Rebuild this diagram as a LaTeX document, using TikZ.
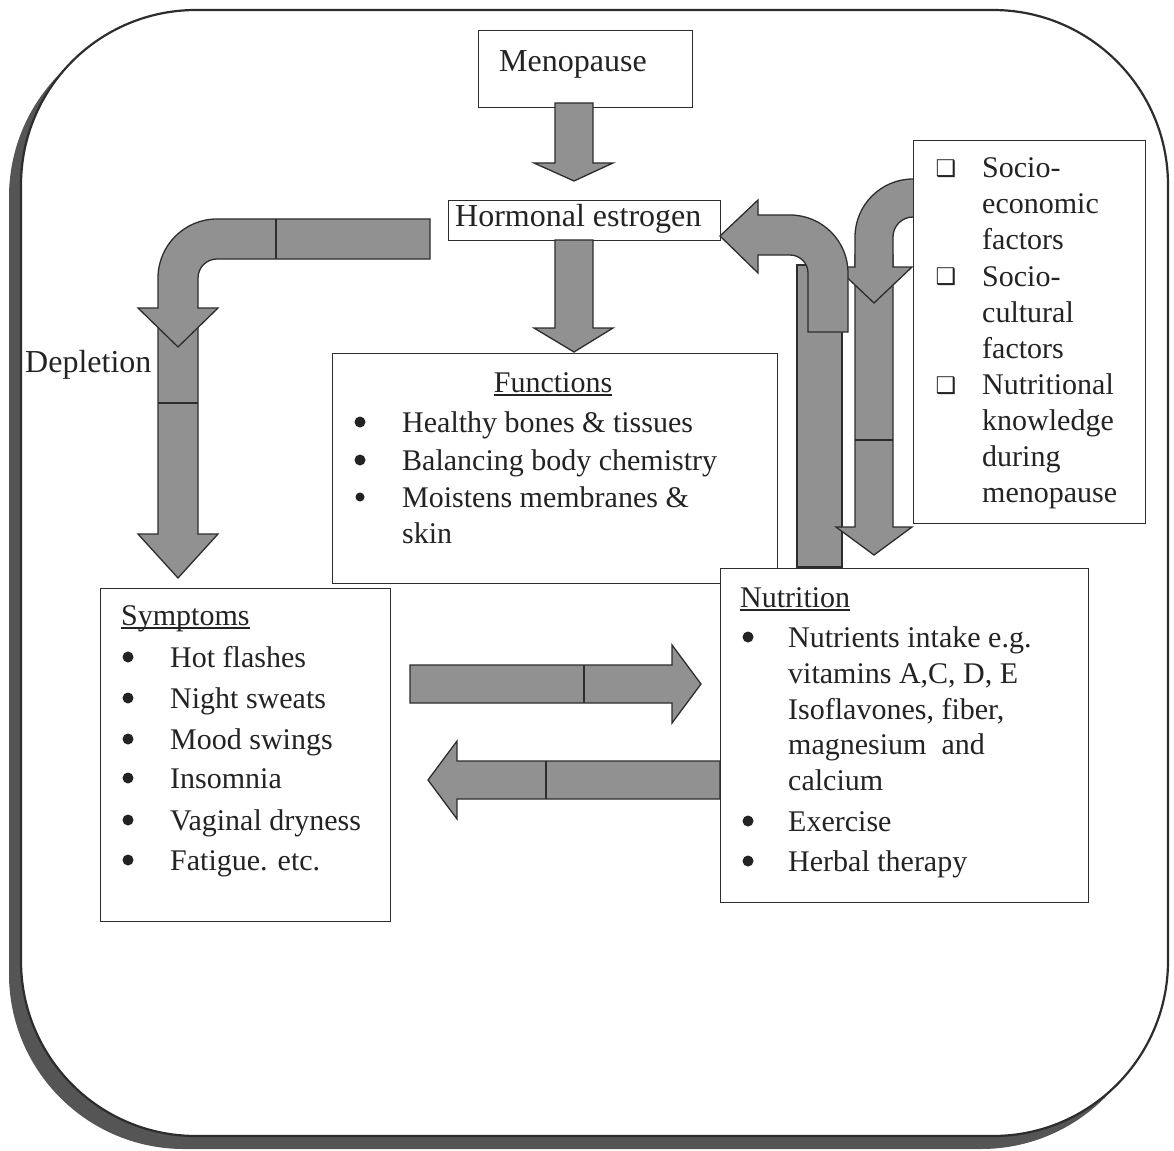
\documentclass[tikz,border=0pt]{standalone}
\usepackage{fontspec}
\setmainfont{Liberation Serif}
\newfontfamily\dejavu{DejaVu Sans}
\definecolor{arrowgray}{RGB}{145,145,145}
\definecolor{edgecol}{RGB}{45,45,45}
\definecolor{shadowgray}{RGB}{85,85,85}
\definecolor{inkcol}{RGB}{35,35,35}
\begin{document}
\begin{tikzpicture}[x=1pt,y=-1pt,
  arr/.style={fill=arrowgray, draw=edgecol, line width=1.3pt, line join=miter},
  divline/.style={draw=edgecol, line width=1.3pt},
  box/.style={draw=edgecol, fill=white, line width=1.3pt, inner sep=0pt},
  tnr/.style={font=\fontsize{32}{32}\selectfont, text=inkcol, inner sep=0pt},
  gar/.style={font=\fontsize{30}{30}\selectfont, text=inkcol, inner sep=0pt},
  bul/.style={circle, fill=inkcol, inner sep=0pt, minimum size=11pt},
  chk/.style={font=\dejavu\fontsize{23}{23}\selectfont, text=inkcol, inner sep=0pt, anchor=center},
  uline/.style={draw=inkcol, line width=1.1pt}]
\useasboundingbox (0,0) rectangle (1174,1150);

% outer frame with shadow
\fill[shadowgray, rounded corners=175] (9,22) rectangle (1156,1149);
\draw[draw=edgecol, fill=white, line width=2.2pt, rounded corners=175] (21,10) rectangle (1168,1136);

% boxes (background ones)
\node[box, anchor=north west, minimum width=214, minimum height=77] (meno) at (478,30) {};
\node[box, anchor=north west, minimum width=272, minimum height=40] (horm) at (448,200) {};
\node[box, anchor=north west, minimum width=445, minimum height=230] (func) at (332,353) {};
\node[box, anchor=north west, minimum width=290, minimum height=333] (symp) at (100,588) {};

% Menopause -> Hormonal estrogen
\draw[arr] (555,103) -- (593,103) -- (593,163) -- (613,163) -- (574,181) -- (534,163) -- (555,163) -- cycle;
% Hormonal estrogen -> Functions
\draw[arr] (555,240) -- (593,240) -- (593,328) -- (613,328) -- (574,352) -- (534,328) -- (555,328) -- cycle;

% Depletion: straight arrow to Symptoms
\draw[arr] (158,320) -- (198,320) -- (198,534) -- (218,534) -- (178,578) -- (138,534) -- (158,534) -- cycle;
\draw[divline] (158,403) -- (198,403);
% Depletion: bent arrow from Hormonal estrogen
\draw[arr] (430,219) -- (217,219) arc(270:180:59) -- (158,308) -- (138,308) -- (178,347) -- (218,308) -- (198,308)
  -- (198,278) arc(180:270:19) -- (430,259) -- cycle;
\draw[divline] (276,219) -- (276,259);

% Symptoms <-> Nutrition
\draw[arr] (410,665) -- (672,665) -- (672,645) -- (701,684) -- (672,723) -- (672,703) -- (410,703) -- cycle;
\draw[divline] (584,665) -- (584,703);
\draw[arr] (720,761) -- (457,761) -- (457,741) -- (428,780) -- (457,819) -- (457,799) -- (720,799) -- cycle;
\draw[divline] (546,761) -- (546,799);

% Nutrition -> Hormonal estrogen (bar + bent arrow)
\draw[arr] (797,265) rectangle (842,567);
% factors -> Nutrition: straight lower arrow
\draw[arr] (855,255) -- (893,255) -- (893,527) -- (912,527) -- (874,555) -- (836,527) -- (855,527) -- cycle;
\draw[divline] (855,440) -- (893,440);
% factors: curved arrow coming out of the box
\draw[arr] (930,179) -- (913,179) arc(270:180:58) -- (855,267) -- (836,267) -- (874,303) -- (912,267) -- (893,267)
  -- (893,237) arc(180:270:20) -- (930,217) -- cycle;
% bent arrow pointing to Hormonal estrogen
\draw[arr] (720,236) -- (758,200) -- (758,215) -- (790,215) arc(270:360:58) -- (848,332) -- (808,332)
  -- (808,273) arc(360:270:18) -- (758,255) -- (758,273) -- cycle;

% foreground boxes
\node[box, anchor=north west, minimum width=368, minimum height=334] (nutr) at (720,568) {};
\node[box, anchor=north west, minimum width=232, minimum height=383] (fact) at (913,140) {};

% texts
\node[tnr, anchor=base] (menot) at (573,72) {Menopause};
\node[tnr, anchor=base west] (hormt) at (455,227) {Hormonal estrogen};
\node[tnr, anchor=base west] (deplt) at (25,372) {Depletion};

% Functions
\node[gar, anchor=base] (funt) at (553,392) {Functions};
\draw[uline] ([yshift=-3pt]funt.base west) -- ([yshift=-3pt]funt.base east);
\node[bul] (fb1) at (360,422) {};
\node[bul] (fb2) at (360,460) {};
\node[bul, minimum size=9pt] (fb3) at (360,497) {};
\node[gar, anchor=base west] (f1) at (402,432) {Healthy bones \& tissues};
\node[gar, anchor=base west] (f2) at (402,470) {Balancing body chemistry};
\node[gar, anchor=base west] (f3) at (402,507) {Moistens membranes \&};
\node[gar, anchor=base west] (f4) at (402,543) {skin};

% Symptoms
\node[gar, anchor=base west] (symt) at (121,625) {Symptoms};
\draw[uline] ([yshift=-3pt]symt.base west) -- ([yshift=-3pt]symt.base east);
\foreach \yy/\nn/\tt in {667/1/Hot flashes, 708/2/Night sweats, 749/3/Mood swings, 788/4/Insomnia, 830/5/Vaginal dryness, 870/6/Fatigue. etc.}{
  \node[bul] (sb\nn) at (128,\yy-10) {};
  \node[gar, anchor=base west] (s\nn) at (170,\yy) {\tt};
}

% Nutrition
\node[gar, anchor=base west] (nutt) at (740,607) {Nutrition};
\draw[uline] ([yshift=-3pt]nutt.base west) -- ([yshift=-3pt]nutt.base east);
\node[bul] (nb1) at (748,637) {};
\node[bul] (nb2) at (748,821) {};
\node[bul] (nb3) at (748,861) {};
\node[gar, anchor=base west] (n1) at (788,647) {Nutrients intake e.g.};
\node[gar, anchor=base west] (n2) at (788,683) {vitamins A,C, D, E};
\node[gar, anchor=base west] (n3) at (788,719) {Isoflavones, fiber,};
\node[gar, anchor=base west] (n4) at (788,754) {magnesium\ \ and};
\node[gar, anchor=base west] (n5) at (788,790) {calcium};
\node[gar, anchor=base west] (n6) at (788,831) {Exercise};
\node[gar, anchor=base west] (n7) at (788,871) {Herbal therapy};

% Factors
\node[chk] (c1) at (946,169) {❑};
\node[chk] (c2) at (946,277) {❑};
\node[chk] (c3) at (946,386) {❑};
\node[gar, anchor=base west] (k1) at (982,178) {Socio-};
\node[gar, anchor=base west] (k2) at (982,214) {economic};
\node[gar, anchor=base west] (k3) at (982,250) {factors};
\node[gar, anchor=base west] (k4) at (982,286) {Socio-};
\node[gar, anchor=base west] (k5) at (982,322) {cultural};
\node[gar, anchor=base west] (k6) at (982,358) {factors};
\node[gar, anchor=base west] (k7) at (982,394) {Nutritional};
\node[gar, anchor=base west] (k8) at (982,430) {knowledge};
\node[gar, anchor=base west] (k9) at (982,466) {during};
\node[gar, anchor=base west] (k10) at (982,502) {menopause};
\end{tikzpicture}
\end{document}
